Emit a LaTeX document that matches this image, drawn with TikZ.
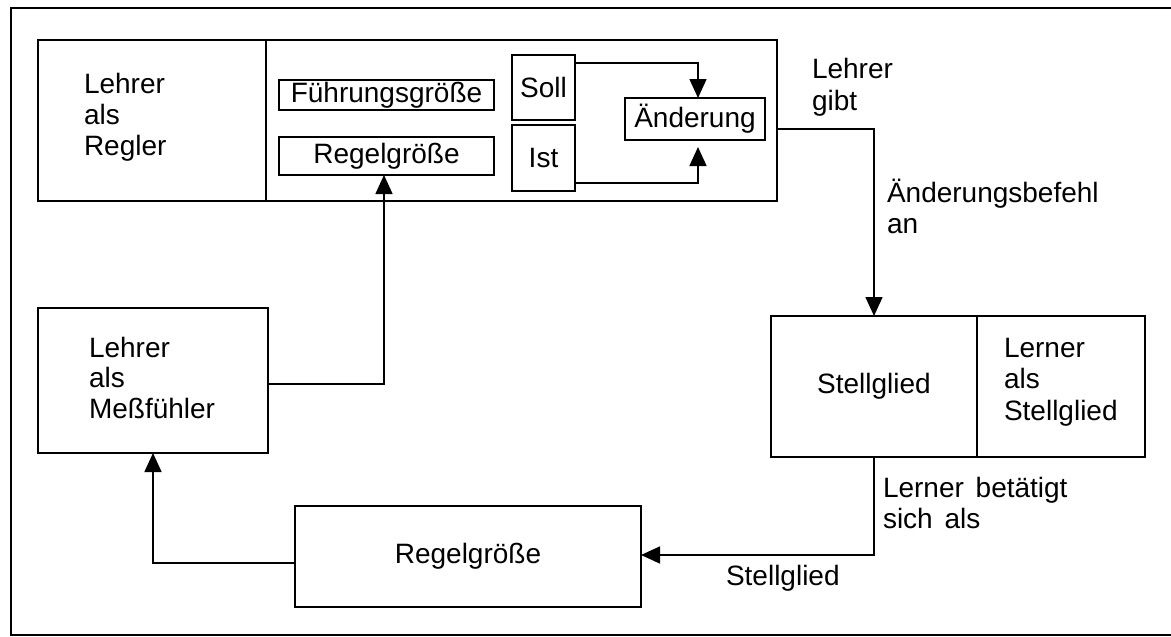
\documentclass[tikz,border=0pt]{standalone}
\usepackage{fontspec}
\setmainfont{Liberation Sans}
\usetikzlibrary{arrows.meta,calc}
\begin{document}
\begin{tikzpicture}[x=1pt,y=-1pt,
  every node/.style={font=\fontsize{28pt}{31pt}\selectfont, inner sep=0pt, outer sep=0pt},
  box/.style={draw, line width=1.5pt},
  lbl/.style={anchor=base west},
  conn/.style={line width=1.5pt},
  arr/.style={conn, -{Triangle[length=19pt,width=17pt]}}]
\useasboundingbox (0,0) rectangle (1171,637);
% outer frame (open to the right, cut by the page edge)
\draw[conn] (1180,8) -- (11,8) -- (11,635) -- (1180,635);

% controller block
\node[box, minimum width=739pt, minimum height=161pt] (regler) at (407.5,120.5) {};
\draw[conn] ($(regler.north west)+(228,0)$) -- ($(regler.south west)+(228,0)$);
\node[lbl] (r1) at (84,93) {Lehrer};
\node[lbl] (r2) at (84,124) {als};
\node[lbl] (r3) at (84,155) {Regler};

\node[box, minimum width=215pt, minimum height=30pt] (fg) at (386.5,95) {Führungsgröße};
\node[box, minimum width=215pt, minimum height=38pt] (rgs) at (386.5,156) {Regelgröße};
\node[box, minimum width=63pt, minimum height=65pt] (soll) at (543.5,87.5) {Soll};
\node[box, minimum width=63pt, minimum height=66pt] (ist) at (543.5,158) {Ist};
\node[box, minimum width=140pt, minimum height=42pt] (aend) at (695,119) {Änderung};

\coordinate (j1) at (698,63);
\coordinate (j2) at (698,183);
\draw[arr] (j1 -| soll.east) -- (j1) -- (j1 |- aend.north);
\draw[arr] (j2 -| ist.east) -- (j2) -- ($(j2 |- aend.south)+(0,7)$);

\node[lbl] (g1) at (812,78) {Lehrer};
\node[lbl] (g2) at (812,110) {gibt};

% Stellglied block
\node[box, minimum width=206pt, minimum height=141pt] (stell) at (874,386.5) {Stellglied};
\node[box, minimum width=168pt, minimum height=141pt] (lerner) at (1061,386.5) {};
\node[lbl] (l1) at (1004,357) {Lerner};
\node[lbl] (l2) at (1004,388) {als};
\node[lbl] (l3) at (1004,420) {Stellglied};

\coordinate (c1) at (874,129);
\draw[arr] (c1 -| regler.east) -- (c1) -- (stell.north);
\node[lbl] (a1) at (887,202) {Änderungsbefehl};
\node[lbl] (a2) at (887,233) {an};

% Regelgröße (bottom)
\node[box, minimum width=346pt, minimum height=101pt] (rgb) at (468,556.5) {Regelgröße};
\coordinate (c2) at (874,555);
\draw[arr] (stell.south) -- (c2) -- (c2 -| rgb.east);
\node[lbl] (b1) at (883,497) {Lerner\hspace{4pt} betätigt};
\node[lbl] (b2) at (883,528) {sich\hspace{4pt} als};
\node[lbl] (b3) at (726,585) {Stellglied};

% Meßfühler
\node[box, minimum width=230pt, minimum height=145pt] (mess) at (153,380.5) {};
\node[lbl] (m1) at (89,357) {Lehrer};
\node[lbl] (m2) at (89,387) {als};
\node[lbl] (m3) at (89,418) {Meßfühler};

\coordinate (c3) at (153,563);
\draw[arr] (c3 -| rgb.west) -- (c3) -- (mess.south);
\coordinate (c4) at (384,384);
\draw[arr] (c4 -| mess.east) -- (c4) -- (c4 |- rgs.south);
\end{tikzpicture}
\end{document}
